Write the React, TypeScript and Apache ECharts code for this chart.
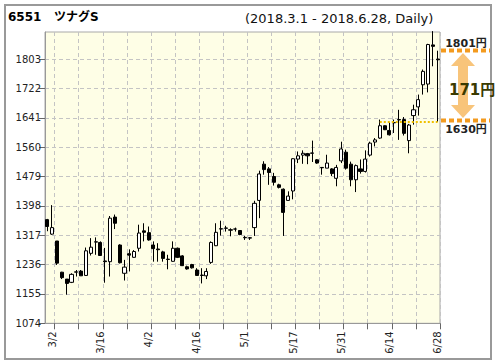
import React, { useEffect, useRef } from "react";
import * as echarts from "echarts";

const DATES = [
  "3/1", "3/2", "3/5", "3/6", "3/7", "3/8", "3/9", "3/12", "3/13", "3/14", "3/15", "3/16", "3/19", "3/20", "3/22", "3/23", "3/26", "3/27", "3/28", "3/29", "3/30",
  "4/2", "4/3", "4/4", "4/5", "4/6", "4/9", "4/10", "4/11", "4/12", "4/13", "4/16", "4/17", "4/18", "4/19", "4/20", "4/23", "4/24", "4/25", "4/26", "4/27",
  "5/1", "5/2", "5/7", "5/8", "5/9", "5/10", "5/11", "5/14", "5/15", "5/16", "5/17", "5/18", "5/21", "5/22", "5/23", "5/24", "5/25", "5/28", "5/29", "5/30", "5/31",
  "6/1", "6/4", "6/5", "6/6", "6/7", "6/8", "6/11", "6/12", "6/13", "6/14", "6/15", "6/18", "6/19", "6/20", "6/21", "6/22", "6/25", "6/26", "6/27", "6/28",
];

const OPEN = [
  1360, 1320, 1301, 1215, 1196, 1187, 1215, 1218, 1206, 1267, 1298, 1297, 1246, 1244, 1367, 1290, 1212, 1266, 1256, 1281, 1329,
  1324, 1290, 1279, 1271, 1251, 1245, 1281, 1260, 1230, 1236, 1221, 1207, 1205, 1242, 1288, 1334, 1336, 1332, 1334, 1330,
  1311, 1310, 1338, 1413, 1513, 1500, 1479, 1456, 1444, 1413, 1439, 1527, 1538, 1542, 1543, 1525, 1504, 1502, 1500, 1474, 1522,
  1546, 1513, 1470, 1500, 1493, 1538, 1574, 1585, 1619, 1606, 1627, 1636, 1636, 1578, 1647, 1671, 1732, 1734, 1842, 1803,
];
const CLOSE = [
  1341, 1338, 1240, 1200, 1184, 1209, 1216, 1205, 1274, 1284, 1299, 1261, 1244, 1364, 1350, 1241, 1229, 1262, 1272, 1323, 1325,
  1304, 1280, 1277, 1253, 1250, 1281, 1256, 1233, 1224, 1227, 1206, 1206, 1217, 1297, 1325, 1335, 1337, 1331, 1334, 1319,
  1310, 1309, 1405, 1486, 1498, 1490, 1463, 1449, 1380, 1425, 1528, 1536, 1543, 1536, 1544, 1516, 1503, 1516, 1487, 1504, 1555,
  1502, 1470, 1509, 1493, 1527, 1571, 1580, 1619, 1608, 1594, 1628, 1635, 1598, 1621, 1663, 1691, 1769, 1843, 1838, 1801,
];
const LOW = [
  1328, 1318, 1235, 1196, 1153, 1185, 1203, 1205, 1205, 1261, 1263, 1260, 1186, 1203, 1334, 1239, 1192, 1217, 1255, 1272, 1300,
  1302, 1244, 1244, 1244, 1223, 1244, 1254, 1232, 1222, 1225, 1205, 1184, 1196, 1238, 1287, 1316, 1327, 1314, 1327, 1317,
  1304, 1304, 1315, 1364, 1484, 1456, 1454, 1446, 1315, 1412, 1416, 1516, 1514, 1513, 1519, 1514, 1484, 1502, 1480, 1452, 1516,
  1498, 1452, 1436, 1487, 1490, 1534, 1562, 1583, 1607, 1592, 1599, 1580, 1592, 1543, 1622, 1647, 1705, 1711, 1783, 1630,
];
const HIGH = [
  1362, 1400, 1301, 1216, 1196, 1212, 1221, 1221, 1283, 1309, 1311, 1300, 1282, 1370, 1374, 1292, 1249, 1278, 1276, 1346, 1350,
  1341, 1300, 1295, 1274, 1263, 1300, 1283, 1262, 1233, 1238, 1226, 1226, 1226, 1300, 1350, 1357, 1343, 1336, 1338, 1331,
  1315, 1312, 1412, 1495, 1521, 1505, 1489, 1459, 1446, 1438, 1529, 1548, 1551, 1544, 1578, 1527, 1505, 1539, 1502, 1511, 1575,
  1553, 1520, 1512, 1526, 1551, 1575, 1585, 1636, 1620, 1628, 1636, 1663, 1643, 1624, 1677, 1705, 1774, 1845, 1880, 1826,
];

const BASE = 1074;
const TOP = 1877.6;
const STEP = 81;
const Y_TICKS = [1074, 1155, 1236, 1317, 1398, 1479, 1560, 1641, 1722, 1803];
const SUPPORT = 1630;
const SUPPORT_FROM = "6/12";
const RANGE_HIGH = 1801;
const RANGE_LOW = 1630;
const TITLE_CODE = "6551";
const TITLE_NAME = "ツナグS";
const SUBTITLE = "(2018.3.1 - 2018.6.28, Daily)";

const FONT = "'DejaVu Sans', 'Noto Sans CJK JP', sans-serif";

export default function App() {
  const ref = useRef<HTMLDivElement>(null);

  useEffect(() => {
    if (!ref.current) return;
    const chart = echarts.init(ref.current, undefined, { renderer: "svg" });
    const offsets = Y_TICKS.map((v) => v - BASE);
    const data = DATES.map((_, i) => [OPEN[i] - BASE, CLOSE[i] - BASE, LOW[i] - BASE, HIGH[i] - BASE]);
    const orange = "#f39a1e";

    chart.setOption({
      animation: false,
      backgroundColor: "#ffffff",
      grid: {
        left: 45,
        top: 32,
        width: 395,
        height: 291.3,
        show: true,
        backgroundColor: "#fefee6",
        borderColor: "#a8a8a8",
        borderWidth: 1,
      },
      xAxis: {
        type: "category",
        data: DATES,
        boundaryGap: true,
        axisLine: { lineStyle: { color: "#999" } },
        axisTick: {
          show: true,
          interval: (i: number) => i % 5 === 2,
          length: 6,
          lineStyle: { color: "#666" },
        },
        axisLabel: {
          interval: (i: number) => i % 10 === 1,
          rotate: 90,
          fontSize: 10,
          color: "#222",
          margin: 8,
          fontFamily: FONT,
        },
        splitLine: {
          show: true,
          interval: (i: number) => i % 5 === 2,
          lineStyle: { color: "#c4c4c4", type: [4, 3] },
        },
      },
      yAxis: {
        type: "value",
        min: 0,
        max: TOP - BASE,
        interval: STEP,
        axisLine: { show: true, lineStyle: { color: "#999" } },
        axisTick: {
          show: true,
          length: 6,
          customValues: offsets,
          lineStyle: { color: "#666" },
        },
        axisLabel: {
          customValues: offsets,
          formatter: (v: number) => (Math.abs(v % STEP) < 0.01 ? String(Math.round(v + BASE)) : ""),
          fontSize: 10,
          color: "#222",
          margin: 4,
          fontFamily: FONT,
        },
        splitLine: {
          show: true,
          lineStyle: { color: "#c4c4c4", type: [4, 3] },
        },
      },
      series: [
        {
          type: "candlestick",
          data,
          barWidth: 3.6,
          itemStyle: {
            color: "#ffffff",
            color0: "#000000",
            borderColor: "#000000",
            borderColor0: "#000000",
            borderWidth: 1,
          },
          markLine: {
            silent: true,
            symbol: "none",
            label: { show: false },
            lineStyle: { color: "#f0c000", type: [2, 2], width: 2 },
            data: [
              [
                { coord: [SUPPORT_FROM, SUPPORT - BASE] },
                { coord: [DATES[DATES.length - 1], SUPPORT - BASE] },
              ],
            ],
          },
        },
      ],
      graphic: [
        {
          type: "rect",
          shape: { x: 5, y: 5, width: 486, height: 354 },
          style: { fill: "none", stroke: "#999", lineWidth: 2 },
          silent: true,
        },
        {
          type: "text",
          x: 8,
          y: 17,
          style: { text: TITLE_CODE, fontSize: 12, fontWeight: "bold", fontFamily: FONT, fill: "#000", verticalAlign: "middle" },
        },
        {
          type: "text",
          x: 54,
          y: 17,
          style: { text: TITLE_NAME, fontSize: 12, fontWeight: "bold", fontFamily: FONT, fill: "#000", verticalAlign: "middle" },
        },
        {
          type: "text",
          x: 245,
          y: 18,
          style: { text: SUBTITLE, fontSize: 13, fontFamily: FONT, fill: "#111", verticalAlign: "middle" },
        },
        {
          type: "text",
          x: 466,
          y: 43,
          style: { text: RANGE_HIGH + "円", fontSize: 11, fontWeight: "bold", fontFamily: FONT, fill: "#222", align: "center", verticalAlign: "middle" },
        },
        {
          type: "line",
          shape: { x1: 441, y1: 50.5, x2: 490, y2: 50.5 },
          style: { stroke: orange, lineWidth: 4, lineDash: [5, 3] },
        },
        {
          type: "polygon",
          shape: {
            points: [
              [463, 53], [475, 66], [468, 66], [468, 105], [475, 105], [463, 118],
              [451, 105], [458, 105], [458, 66], [451, 66],
            ],
          },
          style: { fill: "#f8c47a" },
        },
        {
          type: "text",
          x: 449,
          y: 90,
          style: { text: (RANGE_HIGH - RANGE_LOW) + "円", fontSize: 15, fontWeight: "bold", fontFamily: FONT, fill: "#3a3a00", verticalAlign: "middle" },
        },
        {
          type: "line",
          shape: { x1: 441, y1: 120.5, x2: 490, y2: 120.5 },
          style: { stroke: orange, lineWidth: 4, lineDash: [5, 3] },
        },
        {
          type: "text",
          x: 466,
          y: 129,
          style: { text: RANGE_LOW + "円", fontSize: 11, fontWeight: "bold", fontFamily: FONT, fill: "#222", align: "center", verticalAlign: "middle" },
        },
      ],
    });
    return () => chart.dispose();
  }, []);

  return (
    <div
      ref={ref}
      style={{ position: "fixed", left: 0, top: 0, width: 496, height: 364, background: "#fff" }}
    />
  );
}
